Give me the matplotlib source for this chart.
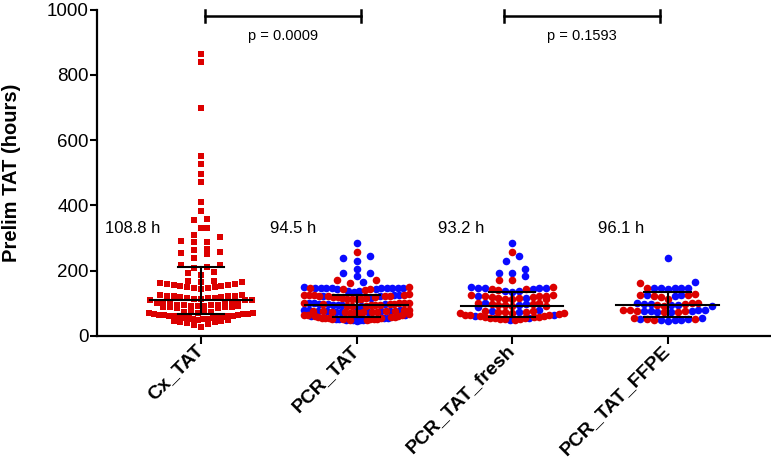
import numpy as np
import matplotlib
matplotlib.use("Agg")
import matplotlib.pyplot as plt

plt.rcParams['font.family'] = ['Liberation Sans', 'DejaVu Sans']

# ---- data ----
groups = ["Cx_TAT", "PCR_TAT", "PCR_TAT_fresh", "PCR_TAT_FFPE"]

cx_tat = [863, 840, 699, 552, 526, 495, 471, 411, 382, 358, 356, 332, 330, 310, 304,
          291, 289, 288, 265, 262, 258, 255, 251, 240, 218, 216, 211, 209, 195, 193,
          187, 169, 167,
          145, 147, 148, 150, 151, 153, 154, 156, 157, 159, 160, 162, 164, 166,
          109, 111, 111, 113, 114, 116, 117, 117, 119, 120, 121, 121, 123, 124, 125, 127,
          86, 87, 88, 89, 89, 90, 91, 92, 93, 93, 94, 95, 96, 96, 97, 98, 99, 100, 101, 101,
          59, 60, 61, 62, 62, 63, 64, 65, 66, 67, 68, 69, 70, 71, 72, 73, 74, 75,
          28, 33, 37, 40, 42, 44, 46, 47, 48, 50, 51, 52, 53, 54, 55, 56, 57, 58]

fresh_red = [256, 170, 170, 150,
             142, 144, 143,
             126, 125, 124, 122, 121, 119, 118, 116, 115, 114, 113, 112,
             102, 101, 99, 98, 96, 94, 92, 91,
             78, 77, 75, 74, 72, 71, 70, 69,
             66, 65, 64, 63, 61, 60, 59, 58, 57, 56, 55, 54, 53, 52, 51, 50]
fresh_blue = [285, 246, 229, 205, 192, 192, 183, 150,
              147, 146, 145, 137, 136, 138, 147, 146,
              123, 117,
              100, 97, 95, 90,
              79, 76, 73,
              65, 62, 56, 50]

ffpe_red = [162, 147, 128, 124, 126, 118, 114, 127,
            102, 100, 98, 95, 93,
            80, 79, 78, 77, 72, 75,
            54, 51, 53, 49]
ffpe_blue = [239, 164, 148, 147, 146, 145, 146, 147,
             126, 121, 125,
             101, 99, 97, 96, 94, 92,
             80, 79, 78, 76, 75, 74, 78,
             55, 53, 52, 50, 49, 48, 47]

# PCR_TAT is fresh + FFPE together
pcr_red = fresh_red + ffpe_red
pcr_blue = fresh_blue + ffpe_blue

medians = [108.8, 94.5, 93.2, 96.1]
q1 = [66, 59, 59, 59]
q3 = [212, 126, 135, 136]
median_labels = ["108.8 h", "94.5 h", "93.2 h", "96.1 h"]
p_values = ["p = 0.0009", "p = 0.1593"]

RED = "#dc0000"
BLUE = "#0a0aff"

# ---- layout ----
W, H = 771, 467
fig = plt.figure(figsize=(W / 100, H / 100), dpi=100)
ax = fig.add_axes([97.3 / W, 1 - 336 / H, (W - 97.3) / W, (336 - 9.5) / H])
ax.set_xlim(-0.666, 3.664)
ax.set_ylim(0, 1000)

px_per_cat = 155.3
px_per_unit = 326.5 / 1000
row_px = 6.8          # height of one row of symbols
sparse_gap = 13.0     # spacing of symbols in a row of few points
dense_gap = 6.8       # spacing in a crowded row (symbols touch)
max_half_width = 52   # symbols stay inside the column


def scatter_rows(vals):
    """Prism-like column scatter: group close values into rows and spread each row
    symmetrically, lowest values in the middle. Returns x offsets in category units."""
    vals = np.asarray(vals, dtype=float)
    order = np.argsort(vals, kind="stable")
    xs = np.zeros(len(vals))
    rows, cur = [], []
    for i in order:
        if cur and (vals[i] - vals[cur[0]]) * px_per_unit > row_px:
            rows.append(cur)
            cur = []
        cur.append(i)
    rows.append(cur)
    for row in rows:
        n = len(row)
        if n == 1:
            continue
        gap = sparse_gap if n <= 6 else dense_gap
        s = min(gap, 2 * max_half_width / (n - 1))
        slots = [(k - (n - 1) / 2) * s for k in range(n)]
        slots.sort(key=lambda c: (abs(c), c))
        for idx, c in zip(row, slots):
            xs[idx] = c
    return xs / px_per_cat


# Cx_TAT: red squares
off = scatter_rows(cx_tat)
ax.scatter(0 + off, cx_tat, marker="s", s=24, color=RED, linewidths=0, zorder=2)

# PCR groups: red and blue circles
for gi, (reds, blues) in enumerate([(pcr_red, pcr_blue), (fresh_red, fresh_blue),
                                     (ffpe_red, ffpe_blue)], start=1):
    vals = np.array(blues + reds, dtype=float)
    isblue = np.array([True] * len(blues) + [False] * len(reds))
    off = scatter_rows(vals)
    ax.scatter(gi + off[isblue], vals[isblue], s=30, color=BLUE, linewidths=0, zorder=2)
    ax.scatter(gi + off[~isblue], vals[~isblue], s=30, color=RED, linewidths=0, zorder=3)

# median with interquartile range
for i in range(4):
    ax.plot([i - 0.33, i + 0.33], [medians[i]] * 2, color="black", lw=1.5, zorder=5)
    ax.plot([i, i], [q1[i], q3[i]], color="black", lw=1.5, zorder=5)
    for q in (q1[i], q3[i]):
        ax.plot([i - 0.15, i + 0.15], [q, q], color="black", lw=1.5, zorder=5)

label_dx = [-0.44, -0.41, -0.33, -0.30]
for i in range(4):
    ax.text(i + label_dx[i], 330, median_labels[i], ha="center", va="center", fontsize=12)

# significance brackets
for (x0, x1), p in zip([(0.026, 1.03), (1.945, 2.95)], p_values):
    ax.plot([x0, x1], [980, 980], color="black", lw=1.8, clip_on=False)
    for x in (x0, x1):
        ax.plot([x, x], [962, 998], color="black", lw=1.8, clip_on=False)
    ax.text((x0 + x1) / 2, 919, p, ha="center", va="center", fontsize=10.5)

# axes styling
for s in ("top", "right"):
    ax.spines[s].set_visible(False)
for s in ("left", "bottom"):
    ax.spines[s].set_linewidth(1.6)
ax.set_yticks([0, 200, 400, 600, 800, 1000])
ax.tick_params(axis="y", length=5, width=1.5, labelsize=13.5, pad=1)
ax.set_xticks(range(4))
ax.set_xticklabels(groups, rotation=45, ha="right", va="center", rotation_mode="anchor",
                   fontsize=14, fontweight="bold")
ax.tick_params(axis="x", length=5.5, width=1.5, pad=3)
ax.set_ylabel("Prelim TAT (hours)", fontsize=14.5, fontweight="bold", labelpad=19)

fig.savefig("out.png", dpi=100)
